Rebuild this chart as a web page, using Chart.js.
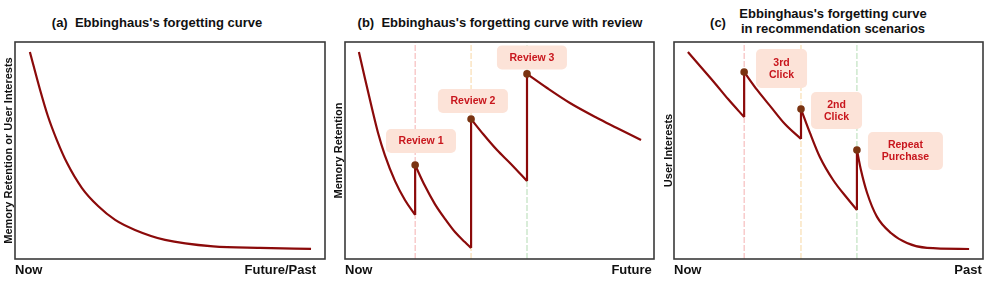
<!DOCTYPE html>
<html>
<head>
<meta charset="utf-8">
<script src="https://cdn.jsdelivr.net/npm/chart.js@4.4.1/dist/chart.umd.min.js"></script>
<style>
  html, body { margin: 0; padding: 0; background: #fff; }
  #wrap { position: relative; width: 997px; height: 286px; overflow: hidden; background: #fff;
          font-family: "Liberation Sans", Arial, sans-serif; }
  canvas { position: absolute; top: 0; }
  .ttl { position: absolute; font-weight: bold; font-size: 13px; color: #111; text-align: center; white-space: pre; }
</style>
</head>
<body>
<div id="wrap">
  <div class="ttl" style="left:0;width:314px;top:15px;line-height:16px;">(a)  Ebbinghaus's forgetting curve</div>
  <div class="ttl" style="left:330px;width:340px;top:15px;line-height:16px;">(b)  Ebbinghaus's forgetting curve with review</div>
  <div class="ttl" style="left:706px;width:24px;top:15px;line-height:16px;">(c)</div>
  <div class="ttl" style="left:733px;width:200px;top:7px;line-height:14.5px;">Ebbinghaus's forgetting curve
in recommendation scenarios</div>
  <canvas id="cA" width="330" height="286" style="left:0"></canvas>
  <canvas id="cB" width="330" height="286" style="left:330px"></canvas>
  <canvas id="cC" width="337" height="286" style="left:660px"></canvas>
</div>
<script>
// ---- data (x: 0..10 across the frame, y: 0..100 bottom→top) ----
const xA = [0.48, 0.81, 1.06, 1.35, 1.68, 2.16, 2.68, 3.23, 3.87, 4.84, 6.39, 7.90, 9.55];
const yA = [95.4, 77.9, 65.9, 54.8, 44.2, 32.7, 24.4, 18.0, 13.4, 8.8, 5.8, 5.1, 4.7];

// (b) one array per segment between reviews
const segXB = [
  [0.45, 0.65, 0.87, 1.07, 1.29, 1.62, 1.94, 2.27],
  [2.27, 2.59, 2.91, 3.24, 3.56, 3.88, 4.08],
  [4.08, 4.47, 4.92, 5.37, 5.89],
  [5.89, 6.54, 7.28, 8.16, 8.80, 9.58],
];
const segYB = [
  [95.4, 82.9, 69.6, 58.1, 47.9, 35.9, 27.2, 20.3],
  [43.3, 33.6, 25.3, 18.4, 12.4, 7.8, 5.1],
  [64.5, 57.6, 50.2, 43.8, 35.9],
  [85.3, 78.8, 71.9, 65.0, 60.4, 54.8],
];
const eventsB = ["Review 1", "Review 2", "Review 3"];

// (c)
const segXC = [
  [0.45, 0.87, 1.29, 1.75, 2.27],
  [2.27, 2.69, 3.14, 3.59, 4.11],
  [4.11, 4.40, 4.72, 5.15, 5.60, 5.92],
  [5.92, 6.05, 6.25, 6.57, 7.02, 7.54, 8.19, 9.55],
];
const segYC = [
  [95.4, 88.5, 81.6, 73.7, 65.4],
  [86.2, 77.9, 70.0, 62.2, 55.3],
  [69.1, 58.1, 47.0, 36.4, 28.1, 22.6],
  [50.2, 41.0, 30.4, 19.4, 12.0, 7.4, 5.1, 4.6],
];
const eventsC = [["3rd", "Click"], ["2nd", "Click"], ["Repeat", "Purchase"]];

const tickPosA = [0, 9.71], tickLabA = ["Now", "Future/Past"];
const tickPosB = [0, 9.93], tickLabB = ["Now", "Future"];
const tickPosC = [0, 9.96], tickLabC = ["Now", "Past"];

// ---- styles ----
const CURVE = "#8b0a0a";
const DOT = "#7a3311";
const VLINE = ["rgba(240,150,150,0.75)", "rgba(245,205,140,0.8)", "rgba(160,210,160,0.8)"];
const FONT = "'Liberation Sans', Arial, sans-serif";

// callout boxes: centre in data units, size in px
const calloutsB = [
  { x: 2.46, y: 54.4, w: 70, h: 24 },
  { x: 4.14, y: 72.8, w: 70, h: 24 },
  { x: 6.05, y: 92.9, w: 70, h: 24 },
];
const calloutsC = [
  { x: 3.48, y: 87.8, w: 51, h: 39 },
  { x: 5.26, y: 68.4, w: 51, h: 37 },
  { x: 7.49, y: 49.8, w: 75, h: 38 },
];

function pts(xs, ys) { return xs.map((x, i) => ({ x, y: ys[i] })); }

function curveDs(data) {
  return {
    data, borderColor: CURVE, borderWidth: 2.2, pointRadius: 0,
    cubicInterpolationMode: "monotone", order: 1,
  };
}

// segments + vertical jumps + dots + dashed event lines
function buildDatasets(segX, segY) {
  const ds = [];
  const dots = [];
  segX.forEach((xs, i) => {
    ds.push(curveDs(pts(xs, segY[i])));
    if (i > 0) {
      const prevX = segX[i - 1], prevY = segY[i - 1];
      const jx = xs[0];
      ds.push({
        data: [{ x: jx, y: prevY[prevY.length - 1] }, { x: jx, y: segY[i][0] }],
        borderColor: CURVE, borderWidth: 2.2, pointRadius: 0, tension: 0, order: 1,
      });
      ds.push({
        data: [{ x: jx, y: 0 }, { x: jx, y: 100 }],
        borderColor: VLINE[i - 1], borderWidth: 1, borderDash: [6, 2], pointRadius: 0, order: 3,
      });
      dots.push({ x: jx, y: segY[i][0] });
    }
  });
  ds.push({
    data: dots, showLine: false, pointRadius: 3.8, pointHoverRadius: 3.8,
    pointBackgroundColor: DOT, pointBorderColor: DOT, pointBorderWidth: 0, order: 0,
  });
  return ds;
}

const framePlugin = {
  id: "frame",
  afterDraw(chart) {
    const { ctx, chartArea: a } = chart;
    ctx.save();
    ctx.strokeStyle = "#3a3a3a";
    ctx.lineWidth = 1.6;
    ctx.strokeRect(a.left, a.top, a.right - a.left, a.bottom - a.top);
    ctx.restore();
  }
};

const calloutPlugin = {
  id: "callouts",
  afterDatasetsDraw(chart, args, opts) {
    if (!opts.items) return;
    const { ctx, scales } = chart;
    ctx.save();
    opts.items.forEach((b, i) => {
      const cx = scales.x.getPixelForValue(b.x);
      const cy = scales.y.getPixelForValue(b.y);
      ctx.fillStyle = "#fce3d8";
      ctx.beginPath();
      ctx.roundRect(cx - b.w / 2, cy - b.h / 2, b.w, b.h, 5);
      ctx.fill();
      const lines = [].concat(opts.texts[i]);
      ctx.fillStyle = "#c8161d";
      ctx.font = "bold 10.5px " + FONT;
      ctx.textAlign = "center";
      ctx.textBaseline = "middle";
      const lh = 12;
      lines.forEach((t, k) => {
        ctx.fillText(t, cx, cy + (k - (lines.length - 1) / 2) * lh + 0.5);
      });
    });
    ctx.restore();
  }
};

function makeChart(id, datasets, yTitle, yWidth, padRight, tickPos, tickLab, callouts, texts) {
  return new Chart(document.getElementById(id), {
    type: "line",
    data: { datasets },
    plugins: [framePlugin, calloutPlugin],
    options: {
      responsive: false,
      animation: false,
      events: [],
      layout: { padding: { top: 42, right: padRight, bottom: 0, left: 0 } },
      plugins: {
        legend: { display: false },
        tooltip: { enabled: false },
        title: { display: false },
        callouts: { items: callouts, texts },
      },
      scales: {
        x: {
          type: "linear", min: 0, max: 10,
          grid: { display: false, drawTicks: false },
          border: { display: false },
          afterBuildTicks: s => { s.ticks = tickPos.map(v => ({ value: v })); },
          afterFit: s => { s.height = 27; },
          ticks: {
            autoSkip: false, maxRotation: 0, align: "inner", padding: 4,
            color: "#111", font: { family: FONT, size: 13, weight: "bold" },
            callback: (v, i) => tickLab[i],
          },
        },
        y: {
          type: "linear", min: 0, max: 100,
          grid: { display: false, drawTicks: false },
          border: { display: false },
          ticks: { display: false },
          afterFit: s => { s.width = yWidth; },
          title: {
            display: true, text: yTitle, color: "#111",
            font: { family: FONT, size: 11, weight: "bold" },
            padding: { top: 2, bottom: 0 },
          },
        },
      },
    },
  });
}

makeChart("cA", [curveDs(pts(xA, yA))], "Memory Retention or User Interests", 15, 5, tickPosA, tickLabA, null, null);
makeChart("cB", buildDatasets(segXB, segYB), "Memory Retention", 15, 6, tickPosB, tickLabB, calloutsB, eventsB);
makeChart("cC", buildDatasets(segXC, segYC), "User Interests", 14, 14, tickPosC, tickLabC, calloutsC, eventsC);
</script>
</body>
</html>
